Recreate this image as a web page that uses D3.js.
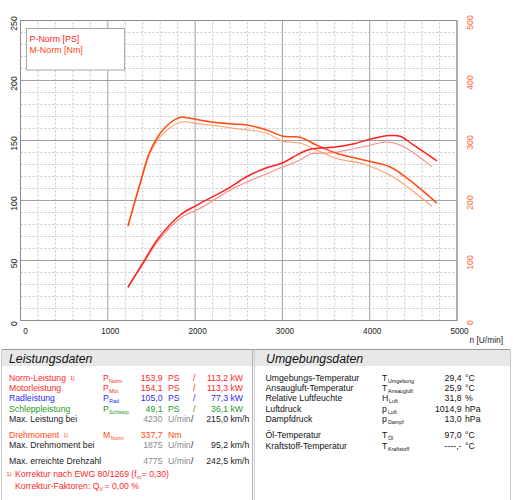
<!DOCTYPE html>
<meta charset="utf-8">
<head>
<script src="https://d3js.org/d3.v7.min.js"></script>
<style>
  body { margin: 0; background: #fff; }
  svg { font-family: Arial, "Liberation Sans", sans-serif; display: block; }
  .minor { stroke: #b8b8b8; stroke-width: 0.8; stroke-dasharray: 2,2; }
  .major { stroke: #a0a0a0; stroke-width: 1; }
</style>
</head>
<body>
<svg id="chart"></svg>
<script>
// ---- curve data ----
var rpmPNorm = [1230, 1400, 1580, 1830, 2020, 2360, 2590, 2820, 2990, 3200, 3320, 3580, 3810, 4000, 4230, 4350, 4500, 4770];
var pNorm    = [27.7, 47.7, 68.5, 87.9, 96.2, 109.3, 119.8, 127.3, 131.0, 139.3, 142.7, 144.3, 147.0, 151.0, 154.1, 153.5, 146.3, 133.0];

var rpmPRef  = [1230, 1400, 1580, 1830, 2060, 2440, 2970, 3200, 3320, 3580, 3930, 4200, 4390, 4710];
var pRef     = [27.5, 46.5, 66.5, 85.2, 93.5, 110.2, 126.8, 133.7, 138.7, 139.8, 144.8, 148.7, 144.8, 128.2];

var rpmMNorm = [1230, 1370, 1480, 1600, 1710, 1830, 1940, 2170, 2440, 2590, 2820, 3010, 3200, 3390, 3620, 3930, 4230, 4430, 4620, 4770];
var mNorm    = [157.5, 228.7, 281, 312, 328.7, 338.7, 337, 331.3, 327.5, 325.8, 317.5, 307, 305.5, 292.5, 278.7, 267.5, 256.3, 237, 214.7, 195.3];

var rpmMRef  = [1230, 1370, 1480, 1600, 1830, 2060, 2440, 2820, 3010, 3200, 3390, 3620, 3930, 4230, 4430, 4710];
var mRef     = [156, 226, 277, 306, 330.3, 327.5, 320.3, 312, 298.5, 295.8, 284, 270, 260.8, 242.5, 223, 190.8];

var xTicks = [0, 1000, 2000, 3000, 4000, 5000];
var yLeftTicks = [0, 50, 100, 150, 200, 250];
var yRightTicks = [0, 100, 200, 300, 400, 500];
var legendItems = ["P-Norm [PS]", "M-Norm [Nm]"];

// ---- table data ----
var leistRows = [
  ["Norm-Leistung", true, "P", "Norm", "153,9", "PS", "113,2", "kW"],
  ["Motorleistung", false, "P", "Mot", "154,1", "PS", "113,3", "kW"],
  ["Radleistung", false, "P", "Rad", "105,0", "PS", "77,3", "kW"],
  ["Schleppleistung", false, "P", "Schlepp", "49,1", "PS", "36,1", "kW"],
  ["Max. Leistung bei", false, "", "", "4230", "U/min", "215,0", "km/h"]
];
var drehRows = [
  ["Drehmoment", true, "M", "Norm", "337,7", "Nm", "", ""],
  ["Max. Drehmoment bei", false, "", "", "1875", "U/min", "95,2", "km/h"],
  ["Max. erreichte Drehzahl", false, "", "", "4775", "U/min", "242,5", "km/h"]
];
var umgRows = [
  ["Umgebungs-Temperatur", "T", "Umgebung", "29,4", "°C"],
  ["Ansaugluft-Temperatur", "T", "Ansaugluft", "25,9", "°C"],
  ["Relative Luftfeuchte", "H", "Luft", "31,8", "%"],
  ["Luftdruck", "p", "Luft", "1014,9", "hPa"],
  ["Dampfdruck", "p", "Dampf", "13,0", "hPa"],
  ["Öl-Temperatur", "T", "Öl", "97,0", "°C"],
  ["Kraftstoff-Temperatur", "T", "Kraftstoff", "----,-", "°C"]
];

var red = "#ff1f1f", redLight = "#ff8a8a", orange = "#ff4a12", orangeLight = "#ff9f6e";
var rowColors = [red, red, "#2b2bff", "#1f9a1f", "#222"];

var W = 513, H = 500;
var svg = d3.select("#chart").attr("width", W).attr("height", H);

var x = d3.scaleLinear().domain([0, 5000]).range([20.5, 457]);
var yP = d3.scaleLinear().domain([0, 250]).range([320.5, 20.5]);
var yM = d3.scaleLinear().domain([0, 500]).range([320.5, 20.5]);

// grid
var grid = svg.append("g");
d3.range(0, 5001, 200).forEach(function(v) {
  grid.append("line").attr("class", v % 1000 === 0 ? "major" : "minor")
    .attr("x1", x(v)).attr("x2", x(v)).attr("y1", yP(0)).attr("y2", yP(250));
});
d3.range(0, 251, 10).forEach(function(v) {
  grid.append("line").attr("class", v % 50 === 0 ? "major" : "minor")
    .attr("x1", x(0)).attr("x2", x(5000)).attr("y1", yP(v)).attr("y2", yP(v));
});
svg.append("rect").attr("x", x(0)).attr("y", yP(250))
  .attr("width", x(5000) - x(0)).attr("height", yP(0) - yP(250))
  .attr("fill", "none").attr("stroke", "#8c8c8c");

// axis labels
xTicks.forEach(function(v) {
  svg.append("text").attr("x", x(v) + (v === 0 ? 5 : 2.5)).attr("y", 334)
    .attr("text-anchor", "middle").attr("font-size", "8.2px").attr("fill", "#222").text(v);
});
svg.append("text").attr("x", 503).attr("y", 342.5).attr("text-anchor", "end")
  .attr("font-size", "8.4px").attr("fill", "#222").text("n [U/min]");

yLeftTicks.forEach(function(v) {
  svg.append("text").attr("transform", "translate(17," + (yP(v) + 3) + ") rotate(-90)")
    .attr("text-anchor", "middle").attr("font-size", "8.6px").attr("fill", "#222").text(v);
});
yRightTicks.forEach(function(v) {
  svg.append("text").attr("transform", "translate(473," + (yM(v) + 2) + ") rotate(-90)")
    .attr("text-anchor", "middle").attr("font-size", "8.6px").attr("fill", "#ff6a3a").text(v);
});

// legend
svg.append("rect").attr("x", 26.5).attr("y", 28.5).attr("width", 98).attr("height", 41.5)
  .attr("fill", "#fff").attr("stroke", "#a8a8a8");
legendItems.forEach(function(t, i) {
  svg.append("text").attr("x", 29.5).attr("y", 41.5 + i * 11.5)
    .attr("font-size", "8.9px").attr("fill", i === 0 ? red : orange).text(t);
});

// curves
function drawCurve(rpms, vals, yScale, color, w) {
  svg.append("path")
    .datum(d3.zip(rpms, vals))
    .attr("fill", "none").attr("stroke", color).attr("stroke-width", w)
    .attr("stroke-linejoin", "round")
    .attr("d", d3.line().curve(d3.curveCatmullRom.alpha(0.5))
      .x(function(d) { return x(d[0]); })
      .y(function(d) { return yScale(d[1]); }));
}
drawCurve(rpmMRef, mRef, yM, orangeLight, 1.1);
drawCurve(rpmPRef, pRef, yP, redLight, 1.1);
drawCurve(rpmMNorm, mNorm, yM, orange, 1.5);
drawCurve(rpmPNorm, pNorm, yP, red, 1.5);

// ---- bottom panels ----
var fs = "8.7px";
svg.append("rect").attr("x", 2).attr("y", 350).attr("width", 508).attr("height", 16)
  .attr("fill", "#e8e8e8");
svg.append("line").attr("x1", 2).attr("x2", 510).attr("y1", 349.5).attr("y2", 349.5).attr("stroke", "#9a9a9a");
svg.append("line").attr("x1", 252.5).attr("x2", 252.5).attr("y1", 349.5).attr("y2", 500).attr("stroke", "#b0b0b0");
svg.append("line").attr("x1", 254.5).attr("x2", 254.5).attr("y1", 349.5).attr("y2", 500).attr("stroke", "#d0d0d0");
svg.append("line").attr("x1", 510.5).attr("x2", 510.5).attr("y1", 349.5).attr("y2", 500).attr("stroke", "#c8c8c8");
svg.append("line").attr("x1", 1.5).attr("x2", 1.5).attr("y1", 349.5).attr("y2", 500).attr("stroke", "#c8c8c8");

svg.append("text").attr("x", 9).attr("y", 363).attr("font-size", "12.3px")
  .attr("font-style", "italic").attr("fill", "#111").text("Leistungsdaten");
svg.append("text").attr("x", 266).attr("y", 363).attr("font-size", "12.3px")
  .attr("font-style", "italic").attr("fill", "#111").text("Umgebungsdaten");

function txt(xp, yp, t, color, opts) {
  opts = opts || {};
  return svg.append("text").attr("x", xp).attr("y", yp)
    .attr("font-size", opts.size || fs).attr("fill", color)
    .attr("text-anchor", opts.anchor || "start").text(t);
}

function leistRow(r, yb, color) {
  var lbl = txt(9, yb, r[0], color);
  if (r[1]) {
    var w = lbl.node().getComputedTextLength();
    txt(9 + w + 4, yb - 1, "1)", color, {size: "5.5px"});
  }
  if (r[2]) {
    txt(103, yb, r[2], color);
    txt(103 + (r[2] === "M" ? 7.5 : 6), yb + 2, r[3], color, {size: "5.5px"});
  }
  var gray = r[5] === "U/min";
  txt(162.5, yb, r[4], gray ? "#8a8a8a" : color, {anchor: "end"});
  txt(168, yb, r[5], gray ? "#8a8a8a" : color);
  if (r[6]) {
    txt(gray ? 191 : 193, yb, "/", gray ? "#222" : color);
    txt(228, yb, r[6], gray ? "#222" : color, {anchor: "end"});
    txt(230.5, yb, r[7], gray ? "#222" : color);
  }
}

var leistY = [380.5, 390.8, 401.2, 411.6, 422];
leistRows.forEach(function(r, i) { leistRow(r, leistY[i], rowColors[i]); });
var drehY = [438.2, 447.6, 464];
drehRows.forEach(function(r, i) { leistRow(r, drehY[i], i === 0 ? orange : "#222"); });

// footnote
txt(6.5, 476, "1)", red, {size: "5.5px"});
var f1 = txt(15, 477.2, "Korrektur nach EWG 80/1269 (f", red);
var fw = f1.node().getComputedTextLength();
txt(15 + fw, 479.2, "m", red, {size: "5.5px"});
txt(15 + fw + 5, 477.2, " =  0,30)", red);
var f2 = txt(15, 489.2, "Korrektur-Faktoren: Q", red);
var fw2 = f2.node().getComputedTextLength();
txt(15 + fw2, 491.2, "V", red, {size: "5.5px"});
txt(15 + fw2 + 5, 489.2, " =   0,00 %", red);

// Umgebungsdaten
var umgY = [380.5, 390.8, 401.2, 411.6, 422, 438.2, 448.8];
umgRows.forEach(function(r, i) {
  var yb = umgY[i];
  txt(265.5, yb, r[0], "#111");
  txt(382, yb, r[1], "#111");
  txt(382 + (r[1] === "H" ? 7 : 6), yb + 2.2, r[2], "#111", {size: "5.3px"});
  txt(461.5, yb, r[3], "#111", {anchor: "end"});
  txt(465, yb, r[4], "#111");
});
</script>
</body>
